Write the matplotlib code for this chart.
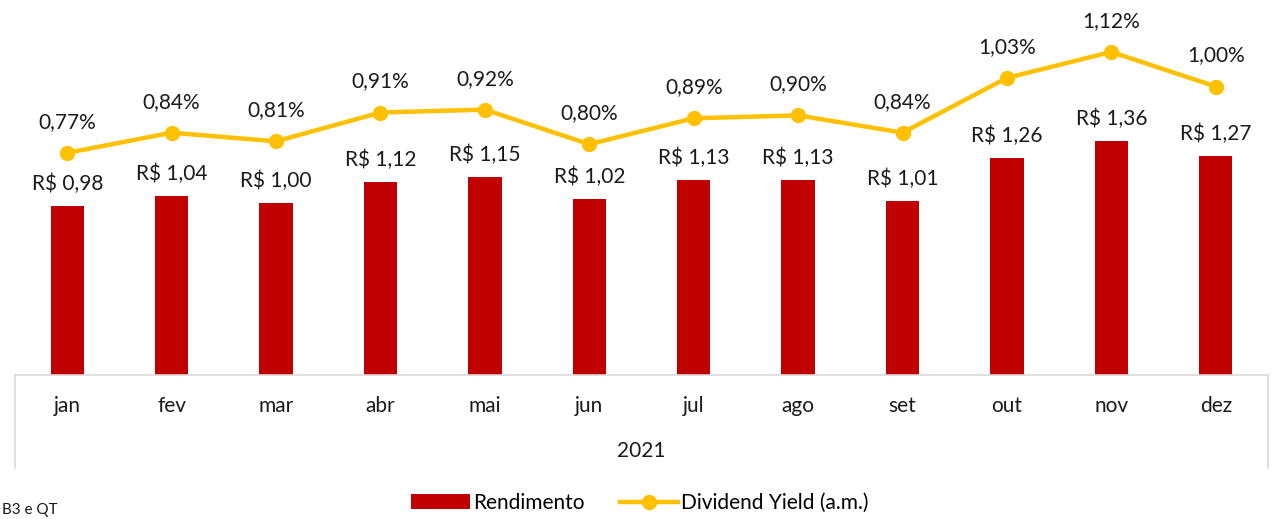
import matplotlib
matplotlib.use("Agg")
import matplotlib.pyplot as plt
from matplotlib.patches import Patch
from matplotlib.lines import Line2D
import matplotlib.transforms as mtransforms

plt.rcParams['font.family'] = ['Lato', 'DejaVu Sans']

months = ["jan", "fev", "mar", "abr", "mai", "jun", "jul", "ago", "set", "out", "nov", "dez"]
rendimento = [0.98, 1.04, 1.00, 1.12, 1.15, 1.02, 1.13, 1.13, 1.01, 1.26, 1.36, 1.27]
dividend_yield = [0.77, 0.84, 0.81, 0.91, 0.92, 0.80, 0.89, 0.90, 0.84, 1.03, 1.12, 1.00]
year_label = "2021"
source_text = "B3 e QT"

RED = "#C00000"
YEL = "#FFC000"
GRAY = "#D9D9D9"
TXT = "#1a1a1a"
FS = 15

W, H = 1277, 519
fig = plt.figure(figsize=(W / 100, H / 100), dpi=100)
ax = fig.add_axes([15 / W, 1 - 375 / H, (1268 - 15) / W, 375 / H])
ax2 = ax.twinx()

x = list(range(len(months)))
ax.bar(x, rendimento, width=0.32, color=RED, zorder=2)
ax.set_xlim(-0.5, len(months) - 0.5)
ax.set_ylim(0, 2.175)
ax2.set_ylim(0, 1.30)

ax2.plot(x, dividend_yield, color=YEL, lw=3.2, marker='o', markersize=10, zorder=3)

for a in (ax, ax2):
    for s in a.spines.values():
        s.set_visible(False)
    a.set_yticks([])
    a.set_xticks([])

ax.spines['bottom'].set_visible(True)
ax.spines['bottom'].set_color(GRAY)
ax.spines['bottom'].set_linewidth(1.2)

def brl(v):
    return "R$ " + f"{v:.2f}".replace(".", ",")

def pct(v):
    return f"{v:.2f}".replace(".", ",") + "%"

for xi, v in zip(x, rendimento):
    ax.annotate(brl(v), (xi, v), xytext=(0, 22), textcoords='offset pixels',
                ha='center', va='center', fontsize=FS, color=TXT, annotation_clip=False)
for xi, v in zip(x, dividend_yield):
    ax2.annotate(pct(v), (xi, v), xytext=(0, 31), textcoords='offset pixels',
                 ha='center', va='center', fontsize=FS, color=TXT, annotation_clip=False)

trans = mtransforms.blended_transform_factory(ax.transData, ax.transAxes)
for xi, m in zip(x, months):
    ax.text(xi, -(406 - 375) / 375, m, transform=trans, ha='center', va='center',
            fontsize=FS, color=TXT)
ax.text(0.5, -(451 - 375) / 375, year_label, transform=ax.transAxes, ha='center',
        va='center', fontsize=FS, color=TXT)

for xa in (0, 1):
    ax.add_line(Line2D([xa, xa], [0, -(468 - 375) / 375], transform=ax.transAxes,
                       color=GRAY, lw=1.2, clip_on=False))

handles = [Patch(facecolor=RED, edgecolor='none'),
           Line2D([0], [0], color=YEL, lw=3.2, marker='o', markersize=10)]
fig.legend(handles, ["Rendimento", "Dividend Yield (a.m.)"], loc='center',
           bbox_to_anchor=(640 / W, 1 - 503 / H), ncol=2, frameon=False,
           fontsize=FS, handlelength=2.8, handleheight=0.75, handletextpad=0.15,
           columnspacing=1.7)

fig.text(2 / W, 2 / H, source_text, ha='left', va='bottom', fontsize=11, color=TXT)

fig.savefig("out.png", dpi=100)
